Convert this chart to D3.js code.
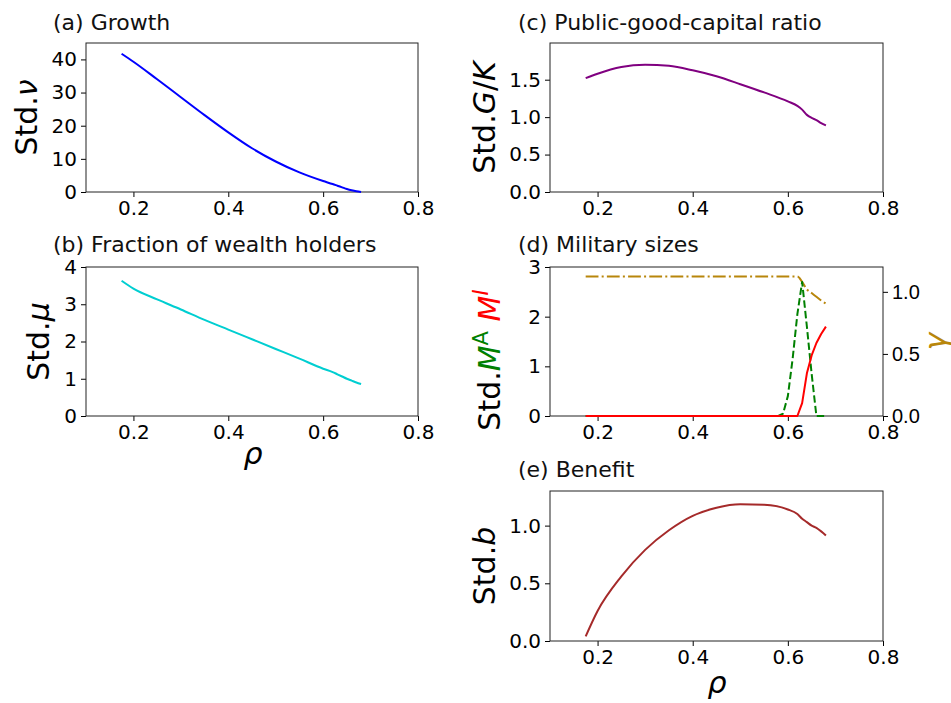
<!DOCTYPE html>
<html>
<head>
<meta charset="utf-8">
<script src="https://cdn.jsdelivr.net/npm/d3@7"></script>
<style>
  body { margin: 0; background: #fff; }
  svg { display: block; font-family: "DejaVu Sans", sans-serif; }
</style>
</head>
<body>
<svg id="chart" width="951" height="703"></svg>
<script>
// ---------- data ----------
const rho = [0.175, 0.2, 0.25, 0.3, 0.35, 0.4, 0.45, 0.5, 0.55, 0.6, 0.62, 0.63, 0.64, 0.65, 0.66, 0.67, 0.68];
const growthStd = [41.7, 39.3, 34.0, 28.6, 23.2, 18.0, 13.2, 9.2, 5.9, 3.3, 2.4, 1.9, 1.4, 0.9, 0.5, 0.2, 0.0];
const wealthStd = [3.63, 3.42, 3.13, 2.86, 2.58, 2.32, 2.06, 1.80, 1.54, 1.27, 1.18, 1.12, 1.06, 1.00, 0.95, 0.90, 0.86];
const gkStd = [1.52, 1.58, 1.67, 1.70, 1.685, 1.625, 1.545, 1.44, 1.33, 1.21, 1.15, 1.10, 1.03, 0.99, 0.96, 0.92, 0.89];
const benefitStd = [0.04, 0.26, 0.56, 0.79, 0.96, 1.085, 1.155, 1.185, 1.18, 1.14, 1.10, 1.06, 1.03, 1.00, 0.98, 0.95, 0.915];

const rhoD = [0.175, 0.58, 0.59, 0.6, 0.61, 0.62, 0.63, 0.64, 0.65, 0.66, 0.67, 0.68];
const mAStd = [0, 0, 0.05, 0.4, 1.15, 2.05, 2.7, 1.8, 0.85, 0, 0, 0];
const mIStd = [0, 0, 0, 0, 0, 0, 0.26, 0.86, 1.22, 1.47, 1.65, 1.8];
const gammaStd = [1.123, 1.123, 1.123, 1.123, 1.123, 1.123, 1.08, 1.02, 0.99, 0.96, 0.93, 0.905];

const xTicks = [0.2, 0.4, 0.6, 0.8];

// ---------- drawing ----------
const svg = d3.select("#chart");
const TICK_FS = 20, TITLE_FS = 22, LABEL_FS = 30;

function panel(o) {
  const g = svg.append("g");
  const x = d3.scaleLinear().domain([0.1, 0.8]).range([o.left, o.right]);
  const y = d3.scaleLinear().domain(o.yDomain).range([o.bottom, o.top]);

  const xa = g.append("g").attr("transform", `translate(0,${o.bottom})`)
    .call(d3.axisBottom(x).tickValues(xTicks).tickFormat(d3.format(".1f")).tickSizeOuter(0).tickSize(5).tickPadding(4));
  const ya = g.append("g").attr("transform", `translate(${o.left},0)`)
    .call(d3.axisLeft(y).tickValues(o.yTicks).tickFormat(o.yFormat).tickSizeOuter(0).tickSize(5).tickPadding(4));
  [xa, ya].forEach(a => {
    a.selectAll("text").attr("font-size", TICK_FS).attr("fill", "#000").attr("font-family", "DejaVu Sans");
    a.select(".domain").remove();
    a.selectAll("line").attr("stroke", "#000").attr("stroke-width", 1);
  });
  // frame
  g.append("rect").attr("x", o.left).attr("y", o.top)
    .attr("width", o.right - o.left).attr("height", o.bottom - o.top)
    .attr("fill", "none").attr("stroke", "#222").attr("stroke-width", 1);

  // title
  g.append("text").attr("x", o.titleX).attr("y", o.titleY)
    .attr("font-size", TITLE_FS).attr("fill", "#111").text(o.title);

  return { g, x, y };
}

function drawLine(p, xs, ys, color, dash, yScale, curve) {
  const ysc = yScale || p.y;
  p.g.append("path")
    .datum(xs.map((v, i) => [v, ys[i]]))
    .attr("fill", "none").attr("stroke", color).attr("stroke-width", 2)
    .attr("stroke-dasharray", dash || null)
    .attr("stroke-linejoin", "round")
    .attr("d", d3.line().x(d => p.x(d[0])).y(d => ysc(d[1])).curve(curve || d3.curveMonotoneX));
}

function yLabel(p, cx, cy, parts) {
  const t = p.g.append("text")
    .attr("transform", `translate(${cx},${cy}) rotate(-90)`)
    .attr("text-anchor", "middle").attr("font-size", LABEL_FS);
  parts.forEach(pt => {
    const s = t.append("tspan").text(pt.t).attr("fill", pt.c || "#000");
    if (pt.i) s.attr("font-style", "italic");
    if (pt.sup) s.attr("font-size", LABEL_FS * 0.7).attr("baseline-shift", "super");
  });
  return t;
}

function xLabel(p, cx, cy) {
  p.g.append("text").attr("x", cx).attr("y", cy).attr("text-anchor", "middle")
    .attr("font-size", LABEL_FS).attr("font-style", "italic").text("ρ");
}

const f0 = d3.format("d"), f1 = d3.format(".1f");

// (a) Growth
const pa = panel({ left: 86, right: 418, top: 43, bottom: 192, yDomain: [0, 44.95], yTicks: [0, 10, 20, 30, 40], yFormat: f0, title: "(a) Growth", titleX: 53, titleY: 30 });
drawLine(pa, rho, growthStd, "#0000ff");
yLabel(pa, 37, 117.5, [{ t: "Std." }, { t: "ν", i: true }]);

// (b) Fraction of wealth holders
const pb = panel({ left: 86, right: 418, top: 267, bottom: 416, yDomain: [0, 4], yTicks: [0, 1, 2, 3, 4], yFormat: f0, title: "(b) Fraction of wealth holders", titleX: 53, titleY: 252 });
drawLine(pb, rho, wealthStd, "#00ced1");
yLabel(pb, 49, 341.5, [{ t: "Std." }, { t: "μ", i: true }]);
xLabel(pb, 253, 464);

// (c) Public-good-capital ratio
const pc = panel({ left: 550, right: 883, top: 43, bottom: 192, yDomain: [0, 1.99], yTicks: [0, 0.5, 1.0, 1.5], yFormat: f1, title: "(c) Public-good-capital ratio", titleX: 518, titleY: 30 });
drawLine(pc, rho, gkStd, "#800080");
yLabel(pc, 495, 117.5, [{ t: "Std." }, { t: "G", i: true }, { t: "/" }, { t: "K", i: true }]);

// (d) Military sizes
const pd = panel({ left: 550, right: 883, top: 267, bottom: 416, yDomain: [0, 3], yTicks: [0, 1, 2, 3], yFormat: f0, title: "(d) Military sizes", titleX: 518, titleY: 252 });
const yR = d3.scaleLinear().domain([0, 1.2]).range([416, 267]);
const ra = pd.g.append("g").attr("transform", "translate(883,0)")
  .call(d3.axisRight(yR).tickValues([0, 0.5, 1.0]).tickFormat(f1).tickSizeOuter(0).tickSize(5).tickPadding(4));
ra.select(".domain").remove();
ra.selectAll("text").attr("font-size", TICK_FS).attr("fill", "#000");
ra.selectAll("line").attr("stroke", "#000");
drawLine(pd, rhoD, gammaStd, "#b8860b", "12.8,3.2,2,3.2", yR);
drawLine(pd, rhoD, mAStd, "#008000", "7.4,3.2", null, d3.curveLinear);
drawLine(pd, rhoD, mIStd, "#ff0000", null, null, d3.curveLinear);
yLabel(pd, 500, 360, [{ t: "Std." }, { t: "M", i: true, c: "#008000" }, { t: "A", sup: true, c: "#008000" }, { t: " " }, { t: "M", i: true, c: "#ff0000" }, { t: "I", i: true, sup: true, c: "#ff0000" }]);
pd.g.append("text").attr("transform", "translate(946,341.5) rotate(-90)")
  .attr("text-anchor", "middle").attr("font-size", LABEL_FS).attr("font-style", "italic")
  .attr("fill", "#b8860b").text("γ");

// (e) Benefit
const pe = panel({ left: 550, right: 883, top: 491, bottom: 641, yDomain: [0, 1.3], yTicks: [0, 0.5, 1.0], yFormat: f1, title: "(e) Benefit", titleX: 518, titleY: 477 });
drawLine(pe, rho, benefitStd, "#a52a2a");
yLabel(pe, 495, 566, [{ t: "Std." }, { t: "b", i: true }]);
xLabel(pe, 717, 693);
</script>
</body>
</html>
